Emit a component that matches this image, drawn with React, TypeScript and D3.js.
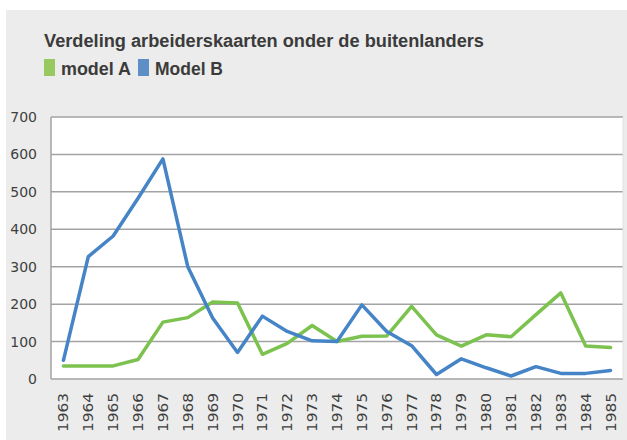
import React from "react";
import { scaleBand, scaleLinear, line } from "d3";

const years = [
  "1963", "1964", "1965", "1966", "1967", "1968", "1969", "1970", "1971", "1972", "1973", "1974",
  "1975", "1976", "1977", "1978", "1979", "1980", "1981", "1982", "1983", "1984", "1985",
];
const modelA = [35, 35, 35, 52, 152, 164, 206, 203, 66, 95, 143, 100, 114, 115, 194, 118, 88, 118, 113, 172, 230, 88, 84];
const modelB = [50, 327, 382, 483, 588, 300, 163, 71, 168, 127, 102, 100, 198, 127, 89, 12, 54, 30, 8, 33, 15, 15, 23];
const yTicks = [0, 100, 200, 300, 400, 500, 600, 700];

const seriesNames = ["model A", "Model B"];
const lineColors = ["#7cc24f", "#4584c6"];
const legendColors = ["#98c95e", "#5e8ec6"];

const W = 627;
const H = 440;
const plot = { left: 51, right: 623, top: 117, bottom: 379 };

const App = () => {
  const x = scaleBand<string>()
    .domain(years)
    .range([plot.left, plot.right]);
  const y = scaleLinear().domain([0, 700]).range([plot.bottom, plot.top]);

  const path = line<number>()
    .x((d, i) => (x(years[i]) as number) + x.bandwidth() / 2)
    .y((d) => y(d));

  const series = [modelA, modelB];

  return (
    <svg
      width={W}
      height={H}
      style={{ position: "absolute", left: 0, top: 0, display: "block" }}
    >
      <rect x={0} y={0} width={W} height={H} fill="#ffffff" />
      <rect x={6} y={10} width={W - 6} height={H - 10} fill="#ebeceb" />

      {/* title */}
      <text
        x={44}
        y={47}
        fontFamily="Liberation Sans, Arial, sans-serif"
        fontWeight="bold"
        fontSize={18}
        fill="#3b3b3b"
        textLength={440}
        lengthAdjust="spacingAndGlyphs"
      >
        Verdeling arbeiderskaarten onder de buitenlanders
      </text>

      {/* legend */}
      <rect x={44} y={59} width={11} height={17} fill={legendColors[0]} />
      <text
        x={61}
        y={75}
        fontFamily="Liberation Sans, Arial, sans-serif"
        fontWeight="bold"
        fontSize={18}
        fill="#3b3b3b"
        textLength={70}
        lengthAdjust="spacingAndGlyphs"
      >
        {seriesNames[0]}
      </text>
      <rect x={138} y={59} width={11} height={17} fill={legendColors[1]} />
      <text
        x={155}
        y={75}
        fontFamily="Liberation Sans, Arial, sans-serif"
        fontWeight="bold"
        fontSize={18}
        fill="#3b3b3b"
        textLength={68}
        lengthAdjust="spacingAndGlyphs"
      >
        {seriesNames[1]}
      </text>

      {/* plot area */}
      <rect
        x={plot.left}
        y={plot.top}
        width={plot.right - plot.left}
        height={plot.bottom - plot.top}
        fill="#ffffff"
      />
      {yTicks.map((t) => (
        <line
          key={t}
          x1={plot.left}
          x2={plot.right}
          y1={y(t)}
          y2={y(t)}
          stroke="#a3a3a3"
          strokeWidth={1.5}
        />
      ))}
      <line
        x1={plot.left}
        x2={plot.left}
        y1={plot.top}
        y2={plot.bottom}
        stroke="#a3a3a3"
        strokeWidth={1.5}
      />
      <line
        x1={plot.right}
        x2={plot.right}
        y1={plot.top}
        y2={plot.bottom}
        stroke="#e0e0e0"
        strokeWidth={1}
      />

      {/* y labels */}
      {yTicks.map((t) => (
        <text
          key={t}
          x={37}
          y={y(t) + 5}
          textAnchor="end"
          fontFamily="DejaVu Sans, sans-serif"
          fontSize={14}
          fill="#3f3f3f"
        >
          {t}
        </text>
      ))}

      {/* x labels */}
      {years.map((yr) => {
        const cx = (x(yr) as number) + x.bandwidth() / 2;
        return (
          <text
            key={yr}
            transform={`translate(${cx + 5},${393}) rotate(-90)`}
            textAnchor="end"
            fontFamily="DejaVu Sans, sans-serif"
            fontSize={14}
            fill="#3f3f3f"
            textLength={39}
            lengthAdjust="spacingAndGlyphs"
          >
            {yr}
          </text>
        );
      })}

      {/* lines */}
      {series.map((s, i) => (
        <path
          key={i}
          d={path(s) || ""}
          fill="none"
          stroke={lineColors[i]}
          strokeWidth={3.5}
          strokeLinejoin="round"
          strokeLinecap="round"
        />
      ))}
    </svg>
  );
};

export default App;
